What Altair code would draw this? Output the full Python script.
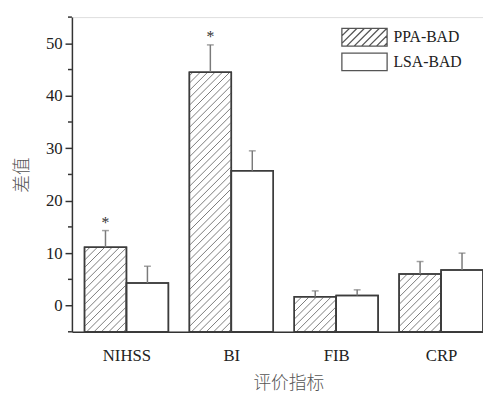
import json
import altair as alt
import pandas as pd

# ---- data ----
categories = ["NIHSS", "BI", "FIB", "CRP"]
groups = ["PPA-BAD", "LSA-BAD"]
ppa_mean = [11.1, 44.5, 1.7, 6.0]
ppa_err = [3.2, 5.2, 1.1, 2.4]
lsa_mean = [4.3, 25.7, 1.9, 6.8]
lsa_err = [3.2, 3.8, 1.1, 3.2]
ppa_sig = ["*", "*", "", ""]
major_ticks = [0, 10, 20, 30, 40, 50]
minor_ticks = [-5, 5, 15, 25, 35, 45, 55]

# ---- layout / style ----
W, H = 418, 320
X_DOMAIN = [-0.02, 3.9]
Y_DOMAIN = [-5, 55]
BAR_W = 0.4
HATCH_STEP = 7.5  # px between hatch lines (horizontal)
SERIF = "Liberation Serif"
CJK = "Noto Sans CJK SC"
DARK = "#333333"
GREY = "#7a7a7a"

rows = []
for i, c in enumerate(categories):
    rows.append(dict(cat=c, idx=i, group=groups[0], gi=0, mean=ppa_mean[i], err=ppa_err[i], star=ppa_sig[i]))
    rows.append(dict(cat=c, idx=i, group=groups[1], gi=1, mean=lsa_mean[i], err=lsa_err[i], star=""))
df = pd.DataFrame(rows)

kx = W / (X_DOMAIN[1] - X_DOMAIN[0])
ky = H / (Y_DOMAIN[1] - Y_DOMAIN[0])
ymin = Y_DOMAIN[0]

xscale = alt.Scale(domain=X_DOMAIN, nice=False, zero=False)
yscale = alt.Scale(domain=Y_DOMAIN, nice=False, zero=False)

base = alt.Chart(df).transform_calculate(
    x0=f"datum.idx + 0.5 + (datum.gi - 1) * {BAR_W}",
).transform_calculate(
    x1=f"datum.x0 + {BAR_W}",
    xc=f"datum.x0 + {BAR_W / 2}",
    top="datum.mean + datum.err",
    ybase=f"{ymin}",
)

x_axis = alt.Axis(
    values=[i + 0.5 for i in range(len(categories))],
    labelExpr=f"{json.dumps(categories)}[floor(datum.value)]",
    ticks=False, grid=False, domainColor=DARK, domainWidth=1.5,
    labelFont=SERIF, labelFontSize=17, labelColor="#222", labelPadding=16,
    title="评价指标", titleFont=CJK, titleFontSize=18, titleFontWeight=300,
    titleColor="#555", titlePadding=12, titleX=220,
)
y_axis = alt.Axis(
    values=major_ticks, tickSize=7, tickWidth=1.5, tickColor=DARK,
    domainColor=DARK, domainWidth=1.5, grid=False,
    labelFont=SERIF, labelFontSize=17, labelColor="#222", labelPadding=3,
    title="差值", titleFont=CJK, titleFontSize=18, titleFontWeight=300,
    titleColor="#555", titlePadding=14,
)


def X(field):
    return alt.X(field, scale=xscale, axis=x_axis)


def Y(field):
    return alt.Y(field, scale=yscale, axis=y_axis)


bars = base.mark_rect(fill="white", stroke="#3c3c3c", strokeWidth=1.5).encode(
    x=X("x0:Q"), x2="x1:Q", y=Y("mean:Q"), y2="ybase:Q",
)

hatch = base.transform_filter("datum.gi == 0").transform_calculate(
    k="sequence(0, 80)"
).transform_flatten(["k"]).transform_calculate(
    w=f"(datum.x1 - datum.x0) * {kx}",
    h=f"(datum.mean - {ymin}) * {ky}",
).transform_calculate(
    t=f"datum.k * {HATCH_STEP} - datum.w + 3",
).transform_calculate(
    us="max(0, -datum.t)",
    ue="min(datum.w, datum.h - datum.t)",
).transform_filter("datum.ue > datum.us + 0.5").transform_calculate(
    hx1=f"datum.x0 + datum.us / {kx}",
    hx2=f"datum.x0 + datum.ue / {kx}",
    hy1=f"{ymin} + (datum.us + datum.t) / {ky}",
    hy2=f"{ymin} + (datum.ue + datum.t) / {ky}",
).mark_rule(color=GREY, strokeWidth=1).encode(
    x=X("hx1:Q"), x2="hx2:Q", y=Y("hy1:Q"), y2="hy2:Q",
)

outline = base.mark_rect(fill=None, stroke="#3c3c3c", strokeWidth=1.5).encode(
    x=X("x0:Q"), x2="x1:Q", y=Y("mean:Q"), y2="ybase:Q",
)

whisk = base.mark_rule(color=GREY, strokeWidth=1.5).encode(
    x=X("xc:Q"), y=Y("mean:Q"), y2="top:Q",
)
caps = base.mark_tick(orient="horizontal", size=7, thickness=1.5, color=GREY).encode(
    x=X("xc:Q"), y=Y("top:Q"),
)
stars = base.transform_filter("datum.star != ''").mark_text(
    dy=-8, fontSize=16, font=SERIF, color=DARK, baseline="middle"
).encode(
    x=X("xc:Q"), y=Y("top:Q"), text="star:N",
)

minor = alt.Chart(pd.DataFrame({"v": minor_ticks})).mark_rule(
    color=DARK, strokeWidth=1.5
).encode(
    y=Y("v:Q"), x=alt.value(-4), x2=alt.value(0),
)


# legend symbols: wide rectangles (one hatched) as custom paths
def rect_path(hw=2.0, hh=0.78, hatch_lines=False, step=0.66):
    p = f"M{-hw},{-hh}L{hw},{-hh}L{hw},{hh}L{-hw},{hh}Z"
    if hatch_lines:
        a = -hw - hh + step
        while a < hw + hh:
            xs = max(-hw, a - hh)
            xe = min(hw, a + hh)
            if xe - xs > 0.04:
                p += f"M{xs:.3f},{-(xs - a):.3f}L{xe:.3f},{-(xe - a):.3f}"
            a += step
    return p


legend_layer = alt.Chart(pd.DataFrame({"g": groups})).transform_filter("false").mark_point(
    color="#444", opacity=1, filled=False
).encode(
    shape=alt.Shape(
        "g:N",
        scale=alt.Scale(domain=groups, range=[rect_path(hatch_lines=True), rect_path()]),
        legend=alt.Legend(
            title=None, orient="none", legendX=285, legendY=8,
            symbolSize=529, symbolStrokeWidth=1.3, symbolStrokeColor="#555",
            symbolFillColor="white", symbolOpacity=1,
            labelFont=SERIF, labelFontSize=16, labelColor="#222",
            labelOffset=17, rowPadding=0, padding=0,
        ),
    )
)

chart = alt.layer(bars, hatch, outline, whisk, caps, stars, minor, legend_layer).properties(
    width=W, height=H,
    autosize=alt.AutoSizeParams(type="none"),
    padding={"left": 65, "top": 6, "right": 0, "bottom": 60},
).configure_view(stroke=None).configure(background="white")

chart.save("out.html", embed_options={"renderer": "svg", "actions": False})
